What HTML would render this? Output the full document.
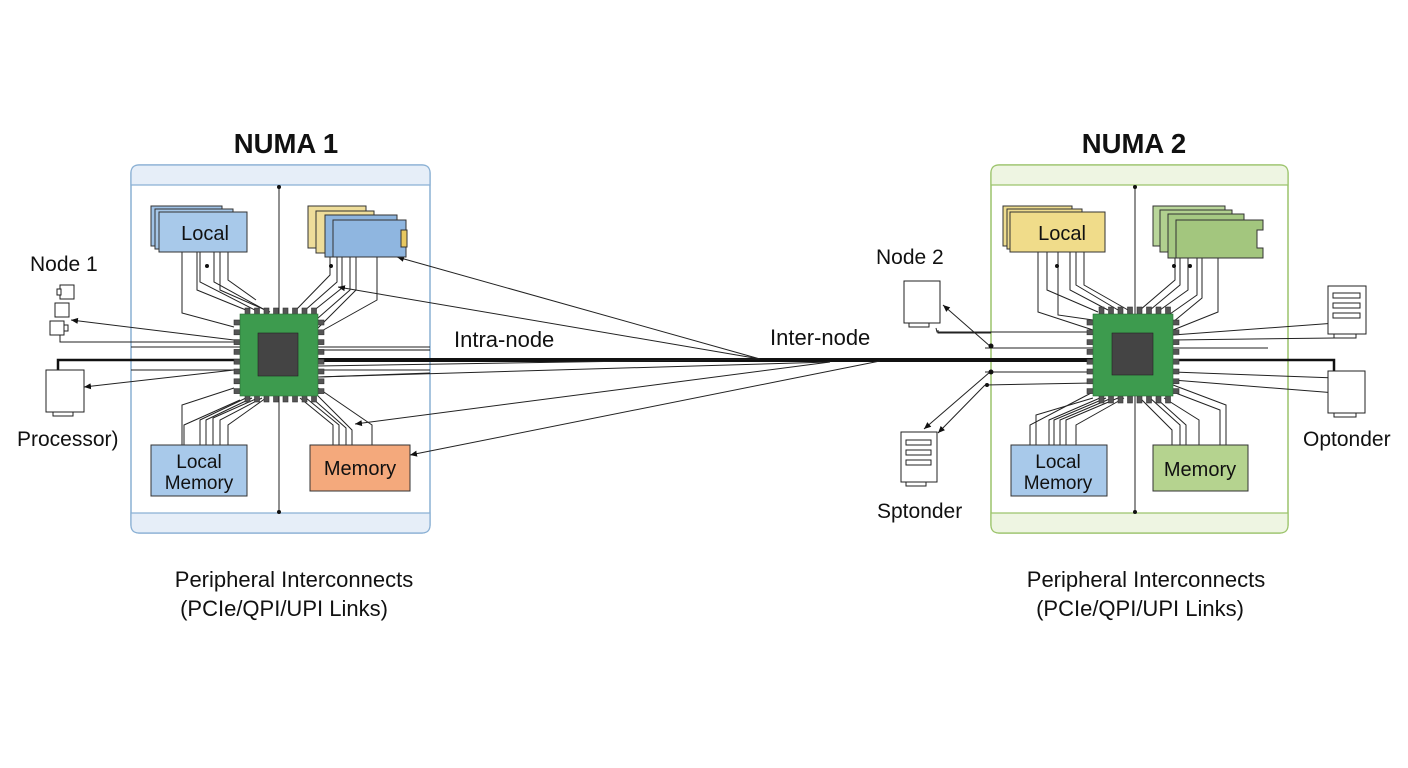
<!DOCTYPE html>
<html><head><meta charset="utf-8"><style>
html,body{margin:0;padding:0;background:#fff;}
svg{display:block;font-family:"Liberation Sans",Arial,sans-serif;}
</style></head><body>
<svg width="1408" height="768" viewBox="0 0 1408 768" xmlns="http://www.w3.org/2000/svg">
<defs>
<marker id="a" markerWidth="8" markerHeight="8" refX="7" refY="4" orient="auto" markerUnits="userSpaceOnUse"><path d="M0,1 L7,4 L0,7 Z" fill="#111"/></marker>
<g id="pinsH"><rect x="0" y="0" width="5" height="7"/><rect x="9.5" y="0" width="5" height="7"/><rect x="19" y="0" width="5" height="7"/><rect x="28.5" y="0" width="5" height="7"/><rect x="38" y="0" width="5" height="7"/><rect x="47.5" y="0" width="5" height="7"/><rect x="57" y="0" width="5" height="7"/><rect x="66.5" y="0" width="5" height="7"/></g>
<g id="pinsV"><rect x="0" y="0" width="7" height="5"/><rect x="0" y="9.8" width="7" height="5"/><rect x="0" y="19.6" width="7" height="5"/><rect x="0" y="29.4" width="7" height="5"/><rect x="0" y="39.2" width="7" height="5"/><rect x="0" y="49" width="7" height="5"/><rect x="0" y="58.8" width="7" height="5"/><rect x="0" y="68.6" width="7" height="5"/></g>
</defs>

<text x="286" y="153" font-size="27.5" font-weight="bold" text-anchor="middle" fill="#111">NUMA 1</text>
<text x="1134" y="153" font-size="27.5" font-weight="bold" text-anchor="middle" fill="#111">NUMA 2</text>

<rect x="131" y="165" width="299" height="368" rx="8" fill="#fff" stroke="#8ab0d4" stroke-width="1.5"/>
<path d="M139,165 H422 Q430,165 430,173 V185 H131 V173 Q131,165 139,165 Z" fill="#e6eef8" stroke="#8ab0d4" stroke-width="1.2"/>
<path d="M131,513 H430 V525 Q430,533 422,533 H139 Q131,533 131,525 Z" fill="#e6eef8" stroke="#8ab0d4" stroke-width="1.2"/>
<line x1="279" y1="186" x2="279" y2="512" stroke="#222" stroke-width="1"/>

<rect x="991" y="165" width="297" height="368" rx="8" fill="#fff" stroke="#9cc46c" stroke-width="1.5"/>
<path d="M999,165 H1280 Q1288,165 1288,173 V185 H991 V173 Q991,165 999,165 Z" fill="#eef5e2" stroke="#9cc46c" stroke-width="1.2"/>
<path d="M991,513 H1288 V525 Q1288,533 1280,533 H999 Q991,533 991,525 Z" fill="#eef5e2" stroke="#9cc46c" stroke-width="1.2"/>
<line x1="1135" y1="186" x2="1135" y2="512" stroke="#222" stroke-width="1"/>

<g fill="none" stroke="#222" stroke-width="1">
<polyline points="182,252 182,313 234,327"/>
<polyline points="197,252 197,290 246,310"/>
<polyline points="200,252 200,282 255,310"/>
<polyline points="214,252 214,282 265,310"/>
<polyline points="220,252 220,290 270,312"/>
<polyline points="228,252 228,280 256,300"/>
<polyline points="330,257 330,275 294,312"/>
<polyline points="337,257 337,282 303,312"/>
<polyline points="342,257 342,288 312,312"/>
<polyline points="350,257 350,290 318,318"/>
<polyline points="356,257 356,290 318,328"/>
<polyline points="377,257 377,300 318,333"/>
<polyline points="182,445 182,405 234,388"/>
<polyline points="184,445 184,425 240,400"/>
<polyline points="200,445 200,420 246,398"/>
<polyline points="206,445 206,420 252,398"/>
<polyline points="213,445 213,418 258,398"/>
<polyline points="220,445 220,420 262,398"/>
<polyline points="228,445 228,425 266,398"/>
<polyline points="333,445 333,425 300,398"/>
<polyline points="339,445 339,425 306,398"/>
<polyline points="346,445 346,428 312,398"/>
<polyline points="352,445 352,430 318,396"/>
<polyline points="372,445 372,425 318,388"/>
<line x1="131" y1="347" x2="240" y2="347"/>
<line x1="131" y1="370" x2="240" y2="370"/>
<line x1="318" y1="347" x2="430" y2="347"/>
<line x1="318" y1="370" x2="430" y2="370"/>
<line x1="318" y1="377" x2="430" y2="373"/>

<polyline points="1038,252 1038,312 1093,330"/>
<polyline points="1058,252 1058,315 1093,320"/>
<polyline points="1047,252 1047,290 1098,312"/>
<polyline points="1070,252 1070,290 1108,310"/>
<polyline points="1076,252 1076,285 1118,310"/>
<polyline points="1084,252 1084,285 1128,310"/>
<polyline points="1175,258 1175,280 1140,310"/>
<polyline points="1180,258 1180,285 1150,310"/>
<polyline points="1188,258 1188,290 1160,310"/>
<polyline points="1197,258 1197,295 1170,314"/>
<polyline points="1202,258 1202,298 1173,322"/>
<polyline points="1218,258 1218,312 1173,330"/>
<polyline points="1030,445 1030,425 1093,392"/>
<polyline points="1036,445 1036,415 1093,398"/>
<polyline points="1049,445 1049,420 1100,398"/>
<polyline points="1054,445 1054,420 1106,398"/>
<polyline points="1060,445 1060,420 1112,398"/>
<polyline points="1066,445 1066,420 1118,398"/>
<polyline points="1076,445 1076,425 1124,398"/>
<polyline points="1172,445 1172,430 1140,398"/>
<polyline points="1180,445 1180,425 1150,398"/>
<polyline points="1186,445 1186,425 1156,398"/>
<polyline points="1199,445 1199,420 1164,398"/>
<polyline points="1220,445 1220,410 1173,392"/>
<polyline points="1226,445 1226,405 1173,385"/>
<polyline points="936,328 937,332 1093,332"/>
<line x1="985" y1="348" x2="1093" y2="348"/>
<line x1="985" y1="372" x2="1093" y2="372"/>
<line x1="985" y1="385" x2="1093" y2="383"/>
<line x1="1173" y1="348" x2="1268" y2="348"/>
<line x1="1173" y1="340" x2="1335" y2="338"/>
</g>

<polyline points="58,372 58,360 240,360" fill="none" stroke="#111" stroke-width="2.5"/>
<line x1="318" y1="360" x2="1093" y2="360" stroke="#111" stroke-width="4"/>
<polyline points="1173,360 1334,360 1334,371" fill="none" stroke="#111" stroke-width="2.5"/>
<line x1="318" y1="350" x2="430" y2="350" stroke="#111" stroke-width="1"/>

<g stroke="#222" stroke-width="1" fill="none">
<line x1="760" y1="359" x2="397" y2="257" marker-end="url(#a)"/>
<line x1="760" y1="359" x2="338" y2="287" marker-end="url(#a)"/>
<line x1="760" y1="359" x2="318" y2="366"/>
<line x1="830" y1="362" x2="318" y2="377"/>
<line x1="830" y1="362" x2="355" y2="424" marker-end="url(#a)"/>
<line x1="880" y1="361" x2="410" y2="455" marker-end="url(#a)"/>
<line x1="234" y1="340" x2="71" y2="320" marker-end="url(#a)"/>
<polyline points="234,342 60,342 60,332"/>
<line x1="234" y1="370" x2="84" y2="387" marker-end="url(#a)"/>
<line x1="991" y1="347" x2="943" y2="305" marker-end="url(#a)"/>
<line x1="990" y1="372" x2="924" y2="429" marker-end="url(#a)"/>
<line x1="985" y1="385" x2="938" y2="433" marker-end="url(#a)"/>
<polyline points="938,330 938,333 991,333"/>
<line x1="1173" y1="335" x2="1336" y2="323" marker-end="url(#a)"/>
<line x1="1173" y1="372" x2="1336" y2="378" marker-end="url(#a)"/>
<line x1="1173" y1="380" x2="1336" y2="393" marker-end="url(#a)"/>
</g>
<g fill="#111">
<circle cx="991" cy="346" r="2.5"/><circle cx="991" cy="372" r="2.5"/><circle cx="987" cy="385" r="2"/>
<circle cx="279" cy="187" r="2"/><circle cx="279" cy="512" r="2"/><circle cx="1135" cy="187" r="2"/><circle cx="1135" cy="512" r="2"/>
<circle cx="207" cy="266" r="2"/><circle cx="1057" cy="266" r="2"/><circle cx="1190" cy="266" r="2"/><circle cx="1174" cy="266" r="2"/><circle cx="331" cy="266" r="2"/>
</g>

<g stroke="#333" stroke-width="0.6">
<g fill="#555">
<use href="#pinsH" x="245" y="308"/><use href="#pinsH" x="245" y="395"/>
<use href="#pinsV" x="234" y="320"/><use href="#pinsV" x="317" y="320"/>
<use href="#pinsH" x="1099" y="307"/><use href="#pinsH" x="1099" y="396"/>
<use href="#pinsV" x="1087" y="320"/><use href="#pinsV" x="1172" y="320"/>
</g>
<rect x="240" y="314" width="78" height="82" fill="#3d9b4e" stroke="#2b6b36"/>
<rect x="258" y="333" width="40" height="43" fill="#444" stroke="#222"/>
<rect x="1093" y="314" width="80" height="82" fill="#3d9b4e" stroke="#2b6b36"/>
<rect x="1112" y="333" width="41" height="42" fill="#444" stroke="#222"/>
</g>

<g stroke="#333" stroke-width="1">
<rect x="151" y="206" width="71" height="40" fill="#9fc2e6"/>
<rect x="155" y="209" width="78" height="40" fill="#a6c7e8"/>
<rect x="159" y="212" width="88" height="40" fill="#a8c9ea"/>
<rect x="308" y="206" width="58" height="42" fill="#eedd9a"/>
<rect x="316" y="211" width="58" height="42" fill="#eedd9a"/>
<rect x="325" y="215" width="72" height="42" fill="#8db4de"/>
<path d="M333,220 H406 V230 H401 V247 H406 V257 H333 Z" fill="#8fb6e0"/>
<rect x="401" y="230" width="6" height="17" fill="#e8c860"/>
<rect x="151" y="445" width="96" height="51" fill="#a8c9ea"/>
<rect x="310" y="445" width="100" height="46" fill="#f4a97c"/>
</g>
<text x="205" y="240" font-size="20" text-anchor="middle" fill="#111">Local</text>
<text x="199" y="468" font-size="19" text-anchor="middle" fill="#111">Local</text>
<text x="199" y="489" font-size="19" text-anchor="middle" fill="#111">Memory</text>
<text x="360" y="475" font-size="20" text-anchor="middle" fill="#111">Memory</text>

<g stroke="#333" stroke-width="1">
<rect x="1003" y="206" width="69" height="40" fill="#eedc8e"/>
<rect x="1007" y="209" width="75" height="40" fill="#efdc8e"/>
<rect x="1010" y="212" width="95" height="40" fill="#f0dc8a"/>
<rect x="1153" y="206" width="72" height="40" fill="#b9d69a"/>
<rect x="1160" y="210" width="72" height="42" fill="#b1d08f"/>
<rect x="1168" y="214" width="76" height="44" fill="#a6c983"/>
<path d="M1176,220 H1263 V230 H1257 V248 H1263 V258 H1176 Z" fill="#a3c67e"/>
<rect x="1011" y="445" width="96" height="51" fill="#a8c9ea"/>
<rect x="1153" y="445" width="95" height="46" fill="#b5d38f"/>
</g>
<text x="1062" y="240" font-size="20" text-anchor="middle" fill="#111">Local</text>
<text x="1058" y="468" font-size="19" text-anchor="middle" fill="#111">Local</text>
<text x="1058" y="489" font-size="19" text-anchor="middle" fill="#111">Memory</text>
<text x="1200" y="476" font-size="20" text-anchor="middle" fill="#111">Memory</text>

<g fill="#fff" stroke="#222" stroke-width="1">
<rect x="60" y="285" width="14" height="14"/><rect x="57" y="289" width="4" height="6"/>
<rect x="55" y="303" width="14" height="14"/>
<rect x="50" y="321" width="14" height="14"/><rect x="64" y="325" width="4" height="6"/>
<rect x="46" y="370" width="38" height="42"/><rect x="53" y="412" width="20" height="4"/>
<rect x="904" y="281" width="36" height="42"/><rect x="909" y="323" width="20" height="4"/>
<rect x="901" y="432" width="36" height="50"/><rect x="906" y="482" width="20" height="4"/>
<rect x="906" y="440" width="25" height="5"/><rect x="906" y="450" width="25" height="5"/><rect x="906" y="460" width="25" height="5"/>
<rect x="1328" y="286" width="38" height="48"/><rect x="1334" y="334" width="22" height="4"/>
<rect x="1333" y="293" width="27" height="5"/><rect x="1333" y="303" width="27" height="5"/><rect x="1333" y="313" width="27" height="5"/>
<rect x="1328" y="371" width="37" height="42"/><rect x="1334" y="413" width="22" height="4"/>
</g>

<g font-size="21" fill="#111">
<text x="30" y="271">Node 1</text>
<text x="17" y="446">Processor)</text>
<text x="876" y="264">Node 2</text>
<text x="877" y="518">Sptonder</text>
<text x="1303" y="446">Optonder</text>
<text x="454" y="347" font-size="22">Intra-node</text>
<text x="770" y="345" font-size="22">Inter-node</text>
<text x="294" y="587" text-anchor="middle" font-size="22">Peripheral Interconnects</text>
<text x="284" y="616" text-anchor="middle" font-size="22">(PCIe/QPI/UPI Links)</text>
<text x="1146" y="587" text-anchor="middle" font-size="22">Peripheral Interconnects</text>
<text x="1140" y="616" text-anchor="middle" font-size="22">(PCIe/QPI/UPI Links)</text>
</g>
</svg>
</body></html>
